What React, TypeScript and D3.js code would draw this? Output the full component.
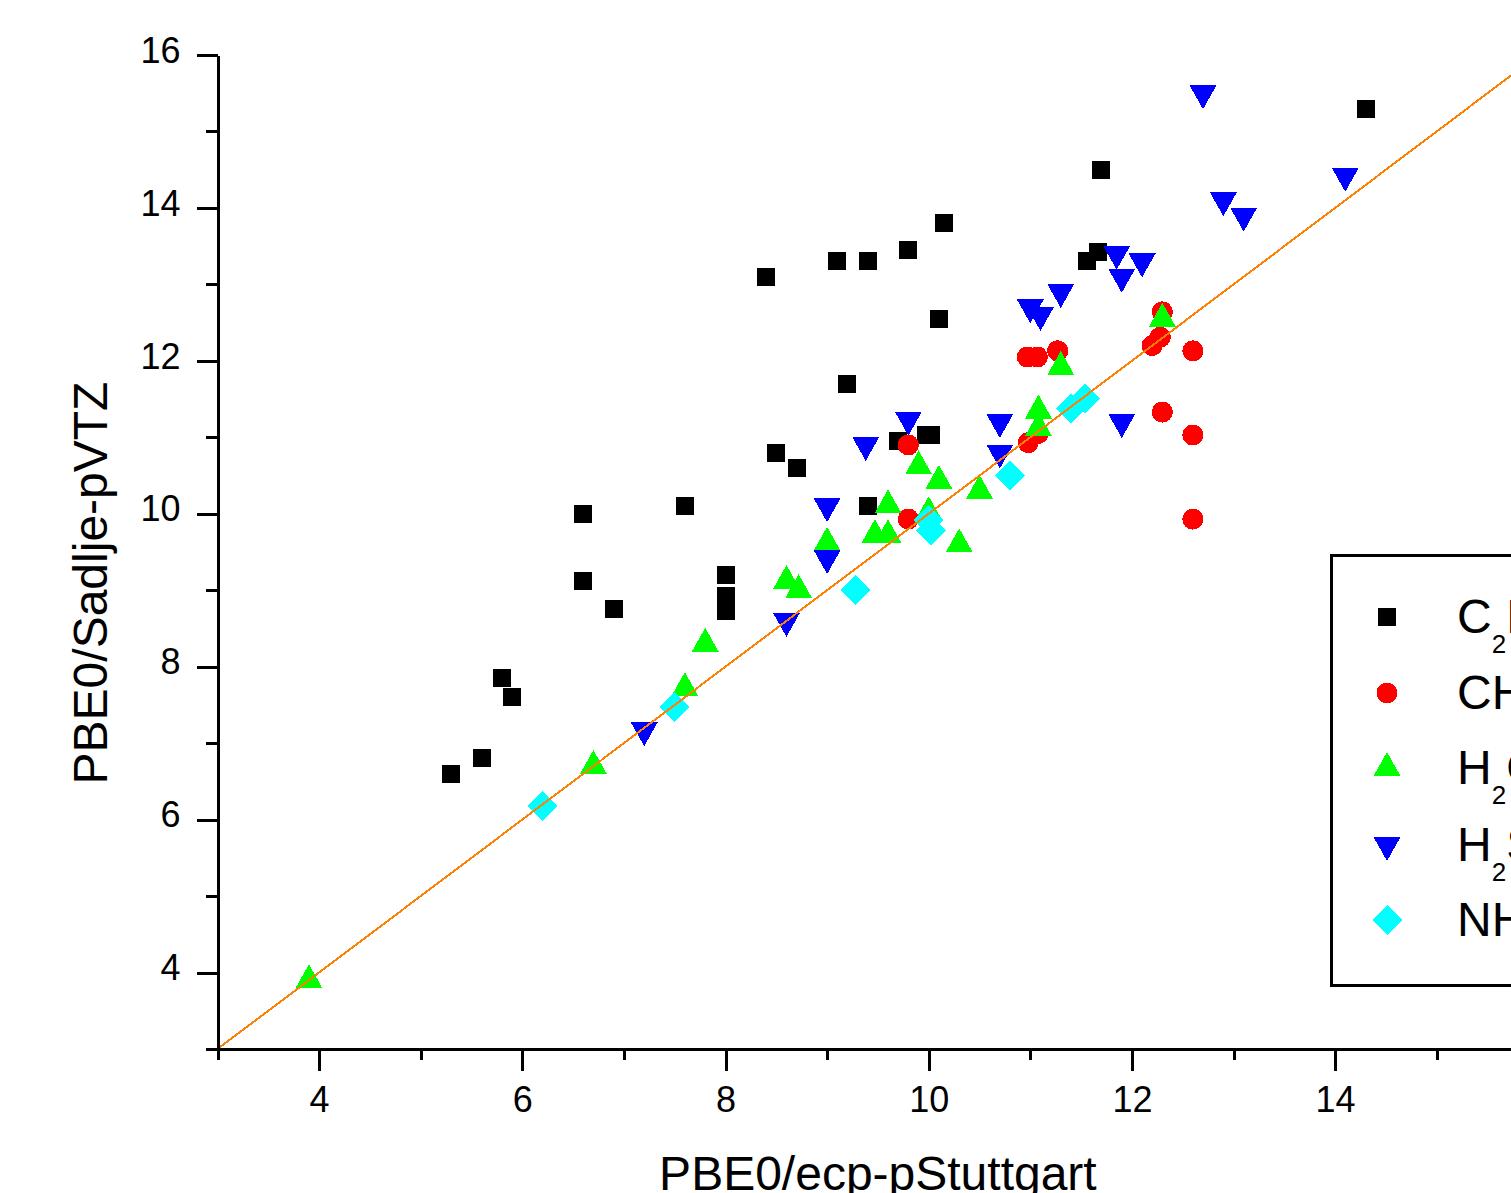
import { useRef, useEffect } from 'react';
import * as d3 from 'd3';

const W = 1760;
const H = 1193;

// [x, y]
const c2h2 = [[5.3, 6.6], [5.6, 6.8], [5.8, 7.85], [5.9, 7.6], [6.6, 10.0], [6.6, 9.12], [6.9, 8.75],
  [7.6, 10.1], [8.0, 9.2], [8.0, 8.92], [8.0, 8.73], [8.4, 13.1], [8.5, 10.8], [8.7, 10.6],
  [9.1, 13.3], [9.4, 13.3], [9.2, 11.7], [9.4, 10.1], [9.7, 10.95], [9.97, 11.03], [10.02, 11.03],
  [9.8, 13.45], [10.15, 13.8], [10.1, 12.55], [11.7, 14.5], [11.56, 13.3], [11.67, 13.42], [14.3, 15.3]];
const ch4 = [[9.8, 10.9], [9.8, 9.93], [10.97, 12.05], [11.07, 12.05], [11.27, 12.13], [10.98, 10.93],
  [11.08, 11.05], [12.3, 11.33], [12.6, 12.13], [12.6, 11.03], [12.6, 9.93], [12.2, 12.2],
  [12.28, 12.31], [12.3, 12.64]];
const h2o = [[3.9, 3.9], [6.7, 6.7], [7.6, 7.72], [7.8, 8.3], [8.6, 9.12], [8.72, 9.0], [9.0, 9.62],
  [9.47, 9.72], [9.6, 9.72], [9.6, 10.11], [9.9, 10.62], [10.0, 10.02], [10.1, 10.43], [10.3, 9.6],
  [10.5, 10.3], [11.08, 11.35], [11.08, 11.12], [11.3, 11.92], [12.3, 12.55]];
const h2s = [[7.2, 7.17], [8.6, 8.6], [9.0, 9.42], [9.0, 10.1], [9.38, 10.9], [9.8, 11.23], [10.7, 11.2],
  [10.7, 10.8], [11.9, 11.2], [11.0, 12.7], [11.1, 12.6], [11.3, 12.9], [11.85, 13.4], [12.1, 13.3],
  [11.9, 13.1], [12.7, 15.5], [12.9, 14.1], [13.1, 13.9], [14.1, 14.42]];
const nh3 = [[6.2, 6.18], [7.5, 7.47], [9.28, 9.0], [10.0, 9.92], [10.02, 9.78], [10.8, 10.5],
  [11.4, 11.38], [11.54, 11.51]];

const majorTicks = [4, 6, 8, 10, 12, 14, 16];
const minorTicks = [3, 5, 7, 9, 11, 13, 15];

const seriesList = [
  { name: ['C', '2', 'H', '2'], data: c2h2, color: '#000000', shape: 'square' },
  { name: ['CH', '', '', '4'], data: ch4, color: '#ff0000', shape: 'circle' },
  { name: ['H', '2', 'O', ''], data: h2o, color: '#00ff00', shape: 'up' },
  { name: ['H', '2', 'S', ''], data: h2s, color: '#0000ff', shape: 'down' },
  { name: ['NH', '', '', '3'], data: nh3, color: '#00ffff', shape: 'diamond' },
];

const FONT = '"Liberation Sans", Arial, sans-serif';

function shapePath(shape: string) {
  switch (shape) {
    case 'square': return 'M-9,-9H9V9H-9Z';
    case 'circle': return 'M-10.5,0A10.5,10.5 0 1,0 10.5,0A10.5,10.5 0 1,0 -10.5,0Z';
    case 'up': return 'M0,-16L13.5,8L-13.5,8Z';
    case 'down': return 'M-13.5,-8L13.5,-8L0,16Z';
    default: return 'M0,-15L15,0L0,15L-15,0Z';
  }
}

export default function App() {
  const svgRef = useRef<SVGSVGElement>(null);

  useEffect(() => {
    const svg = d3.select(svgRef.current);
    svg.selectAll('*').remove();

    const x = d3.scaleLinear().domain([3, 16]).range([217.5, 217.5 + 13 * 101.6]);
    const y = d3.scaleLinear().domain([3, 16]).range([1049, 55]);

    // markers first, fit line on top
    seriesList.forEach(s => {
      svg.append('g').selectAll('path')
        .data(s.data)
        .join('path')
        .attr('transform', d => `translate(${x(d[0])},${y(d[1])})`)
        .attr('d', shapePath(s.shape))
        .attr('fill', s.color);
    });

    const diag = d3.line<number>().x(d => x(d)).y(d => y(d));
    svg.append('path')
      .datum([3, 16])
      .attr('d', diag)
      .attr('fill', 'none')
      .attr('stroke', '#ff8000')
      .attr('stroke-width', 2);

    // axes
    const axisStyle = (g: any) => {
      g.select('.domain').attr('stroke-width', 3);
      g.selectAll('line').attr('stroke-width', 3);
      g.selectAll('text').attr('font-family', FONT).attr('font-size', 36).attr('fill', '#000');
    };

    svg.append('g')
      .attr('transform', `translate(0,${y(3)})`)
      .call(d3.axisBottom(x).tickValues(minorTicks).tickSize(11).tickSizeOuter(0).tickFormat(() => ''))
      .call(axisStyle);
    svg.append('g')
      .attr('transform', `translate(0,${y(3)})`)
      .call(d3.axisBottom(x).tickValues(majorTicks).tickSize(22).tickSizeOuter(0).tickPadding(15).tickFormat(d3.format('d')))
      .call(axisStyle)
      .call(g => g.select('.domain').attr('d', `M206,0H${W}`));

    svg.append('g')
      .attr('transform', `translate(${x(3)},0)`)
      .call(d3.axisLeft(y).tickValues(minorTicks).tickSize(12).tickSizeOuter(0).tickFormat(() => ''))
      .call(axisStyle);
    svg.append('g')
      .attr('transform', `translate(${x(3)},0)`)
      .call(d3.axisLeft(y).tickValues(majorTicks).tickSize(21).tickSizeOuter(0).tickPadding(16).tickFormat(d3.format('d')))
      .call(axisStyle)
      .call(g => g.selectAll('text').attr('dy', '0.2em'));

    // axis titles
    svg.append('text')
      .attr('x', (x(3) + x(16)) / 2).attr('y', 1190)
      .attr('text-anchor', 'middle')
      .attr('font-family', FONT).attr('font-size', 48)
      .text('PBE0/ecp-pStuttgart');
    svg.append('text')
      .attr('transform', 'translate(107,583) rotate(-90)')
      .attr('text-anchor', 'middle')
      .attr('font-family', FONT).attr('font-size', 48)
      .text('PBE0/Sadlje-pVTZ');

    // legend
    const legend = svg.append('g');
    legend.append('rect')
      .attr('x', 1331).attr('y', 555).attr('width', 400).attr('height', 430)
      .attr('fill', 'white').attr('stroke', '#000').attr('stroke-width', 3);
    const rowY = [617, 693, 768, 845, 920];
    seriesList.forEach((s, i) => {
      legend.append('path')
        .attr('transform', `translate(1387,${rowY[i]})`)
        .attr('d', shapePath(s.shape))
        .attr('fill', s.color);
      const t = legend.append('text')
        .attr('x', 1457).attr('y', rowY[i] + 16)
        .attr('font-family', FONT).attr('font-size', 48);
      const [a, sub1, b, sub2] = s.name;
      t.append('tspan').text(a);
      if (sub1) t.append('tspan').attr('font-size', 26).attr('dy', 20).text(sub1);
      if (b) t.append('tspan').attr('dy', sub1 ? -20 : 0).text(b);
      if (sub2) t.append('tspan').attr('font-size', 26).attr('dy', 20).text(sub2);
    });
  }, []);

  return (
    <div style={{ position: 'absolute', left: 0, top: 0, width: 1511, height: H, overflow: 'hidden', background: '#fff' }}>
      <svg ref={svgRef} width={W} height={H} shapeRendering="crispEdges" style={{ display: 'block' }} />
    </div>
  );
}
